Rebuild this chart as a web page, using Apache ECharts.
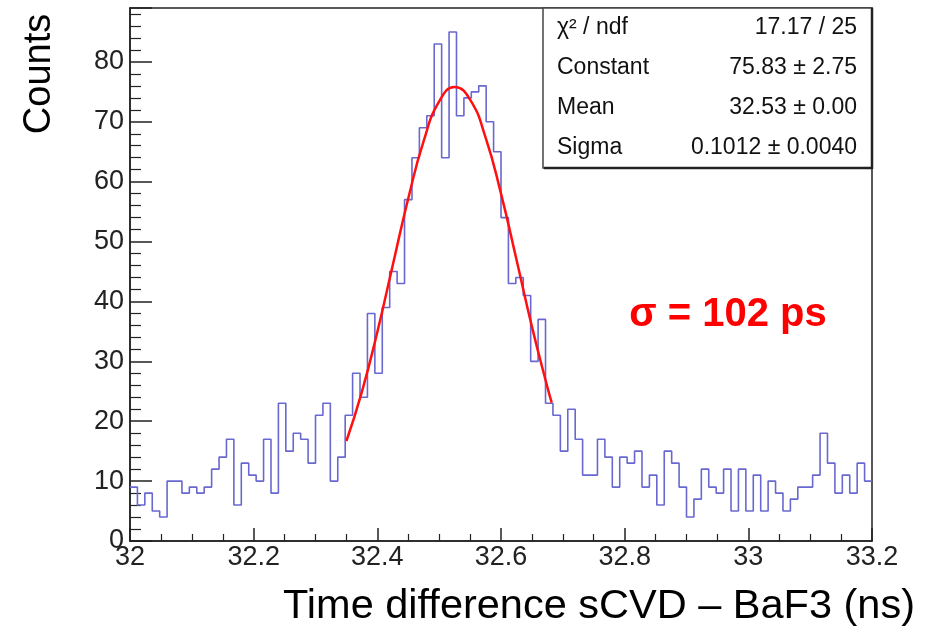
<!DOCTYPE html>
<html>
<head>
<meta charset="utf-8">
<script src="https://cdn.jsdelivr.net/npm/echarts@6/dist/echarts.min.js"></script>
<style>
html,body{margin:0;padding:0;background:#fff;}
#chart{width:935px;height:642px;}
</style>
</head>
<body>
<div id="chart"></div>
<script>
// Histogram: 100 bins from 32.0 to 33.2 ns
const xMin = 32.0;
const xMax = 33.2;
const binCount = 100;
const counts = [
  9, 6, 8, 5, 4, 10, 10, 8, 9, 8,
  9, 12, 14, 17, 6, 13, 11, 10, 17, 8,
  23, 15, 18, 17, 13, 21, 23, 10, 14, 21,
  28, 24, 38, 28, 39, 45, 43, 57, 64, 69,
  71, 83, 64, 85, 71, 74, 75, 76, 70, 65,
  54, 43, 44, 41, 30, 37, 23, 21, 15, 22,
  17, 11, 11, 17, 14, 9, 14, 13, 15, 9,
  11, 6, 15, 13, 9, 4, 7, 12, 9, 8,
  12, 5, 12, 5, 11, 5, 10, 8, 5, 7,
  9, 9, 11, 18, 13, 8, 11, 8, 13, 10
];
// Gaussian fit curve
const fitX = [32.35, 32.375, 32.40, 32.425, 32.45, 32.475, 32.50, 32.525, 32.55, 32.575, 32.60, 32.625, 32.65, 32.675, 32.682];
const fitY = [16.7, 24.9, 34.9, 46.1, 57.2, 66.8, 73.4, 75.8, 73.7, 67.4, 58.0, 47.0, 35.8, 25.7, 23.1];
// Stats box
const statNames = ['\u03c7\u00b2 / ndf', 'Constant', 'Mean', 'Sigma'];
const statValues = ['17.17 / 25', '75.83 \u00b1 2.75', '32.53 \u00b1 0.00', '0.1012 \u00b1 0.0040'];
const yTitle = 'Counts';
const xTitle = 'Time difference sCVD \u2013 BaF3 (ns)';
const note = '\u03c3 = 102 ps';

const binW = (xMax - xMin) / binCount;
const histData = counts.map((c, i) => [xMin + i * binW, c]);
histData.push([xMax, counts[counts.length - 1]]);
const fitData = fitX.map((x, i) => [x, fitY[i]]);

const chart = echarts.init(document.getElementById('chart'));
const lbl = 'Liberation Sans, Arial, sans-serif';
const graphics = [];
// stats box
graphics.push({type:'rect', shape:{x:543, y:8, width:329, height:160}, style:{fill:'#fff', stroke:'#444', lineWidth:1.5}, z:10});
graphics.push({type:'line', shape:{x1:544, y1:168, x2:872, y2:168}, style:{stroke:'#222', lineWidth:2.5}, z:11});
graphics.push({type:'line', shape:{x1:872, y1:8, x2:872, y2:169}, style:{stroke:'#222', lineWidth:2.5}, z:11});
statNames.forEach((n, i) => {
  graphics.push({type:'text', x:557, y:28 + i*40, style:{text:n, font:'23px ' + lbl, fill:'#111', textAlign:'left', textVerticalAlign:'middle'}, z:12});
  graphics.push({type:'text', x:857, y:28 + i*40, style:{text:statValues[i], font:'23px ' + lbl, fill:'#111', textAlign:'right', textVerticalAlign:'middle'}, z:12});
});
graphics.push({type:'text', x:40, y:74, rotation:Math.PI/2, style:{text:yTitle, font:'38px ' + lbl, fill:'#000', textAlign:'center', textVerticalAlign:'middle'}});
graphics.push({type:'text', x:915, y:607, style:{text:xTitle, font:'41.5px ' + lbl, fill:'#000', textAlign:'right', textVerticalAlign:'middle'}});
graphics.push({type:'text', x:728, y:315, style:{text:note, font:'bold 40px ' + lbl, fill:'#ff0000', textAlign:'center', textVerticalAlign:'middle'}});

chart.setOption({
  animation: false,
  grid: {left:130, right:63, top:8, bottom:101, show:true, borderColor:'#222', borderWidth:1.5, backgroundColor:'#fff'},
  xAxis: {
    type:'value', min:xMin, max:xMax, interval:0.2,
    axisLine:{show:true, onZero:false, lineStyle:{color:'#222', width:1.5}},
    axisTick:{show:true, inside:true, length:13, lineStyle:{color:'#222', width:1.5}},
    minorTick:{show:true, splitNumber:4, length:7, lineStyle:{color:'#222', width:1.2}},
    splitLine:{show:false},
    axisLabel:{fontFamily:lbl, fontSize:27, color:'#222', margin:3, formatter:v => String(+(+v).toFixed(1))}
  },
  yAxis: {
    type:'value', min:0, max:89, interval:10,
    axisLine:{show:true, lineStyle:{color:'#222', width:1.5}},
    axisTick:{show:true, inside:true, length:22, lineStyle:{color:'#222', width:1.5}},
    minorTick:{show:true, splitNumber:5, length:11, lineStyle:{color:'#222', width:1.2}},
    splitLine:{show:false},
    axisLabel:{fontFamily:lbl, fontSize:27, color:'#222', margin:6, showMaxLabel:false}
  },
  series: [
    {type:'line', step:'end', data:histData, symbol:'none', lineStyle:{color:'#6868d0', width:1.6}, z:2},
    {type:'line', smooth:true, data:fitData, symbol:'none', lineStyle:{color:'#ff1010', width:2.5}, z:3}
  ],
  graphic: graphics
});
</script>
</body>
</html>
